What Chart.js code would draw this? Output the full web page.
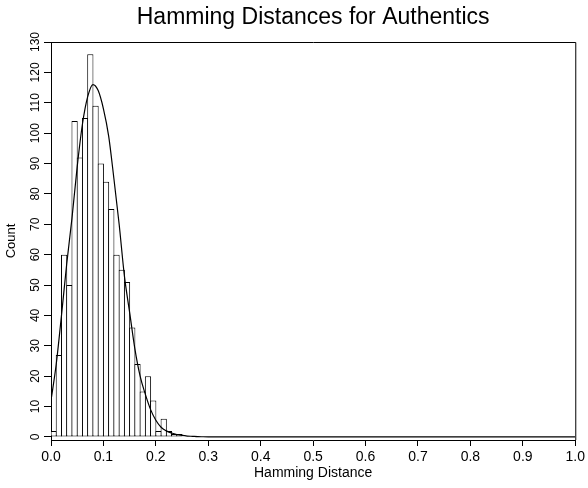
<!DOCTYPE html>
<html>
<head>
<meta charset="utf-8">
<script src="https://cdn.jsdelivr.net/npm/chart.js@4"></script>
<style>
  html, body { margin: 0; padding: 0; background: #fff; }
</style>
</head>
<body>
<canvas id="chart" width="588" height="488"></canvas>
<script>
// histogram bins (0.01 wide) and counts
const binCenters = [0.005, 0.015, 0.025, 0.035, 0.045, 0.055, 0.065, 0.075, 0.085, 0.095,
  0.105, 0.115, 0.125, 0.135, 0.145, 0.155, 0.165, 0.175, 0.185, 0.195,
  0.205, 0.215, 0.225, 0.235, 0.245];
const binCounts = [2, 27, 60, 50, 104, 92, 105, 126, 109, 90,
  84, 75, 60, 55, 51, 36, 24, 15, 20, 12,
  2, 6, 2, 1, 1];

// fitted density curve
const curveX = [0, 0.01, 0.02, 0.03, 0.04, 0.05, 0.06, 0.07, 0.08, 0.09,
  0.10, 0.11, 0.12, 0.13, 0.14, 0.15, 0.16, 0.17, 0.18, 0.19,
  0.20, 0.21, 0.22, 0.23, 0.24, 0.25, 0.26, 0.27, 0.28, 0.29, 0.30,
  0.35, 0.4, 0.5, 0.6, 0.7, 0.8, 0.9, 1.0];
const curveY = [12, 24, 40, 57, 72, 89, 103, 112, 116, 114,
  108, 99, 85, 70, 53, 41, 29, 20, 14, 9,
  5.5, 3.2, 2.0, 1.3, 0.8, 0.5, 0.3, 0.2, 0.1, 0.07, 0.05,
  0, 0, 0, 0, 0, 0, 0, 0];

const xTicks = [0, 0.1, 0.2, 0.3, 0.4, 0.5, 0.6, 0.7, 0.8, 0.9, 1.0];
const yTicks = [0, 10, 20, 30, 40, 50, 60, 70, 80, 90, 100, 110, 120, 130];

const FONT = "'Liberation Sans', Arial, Helvetica, sans-serif";

// top and right sides of the box
const framePlugin = {
  id: 'frame',
  afterDraw(chart) {
    const { ctx, chartArea: a } = chart;
    ctx.save();
    ctx.strokeStyle = '#000';
    ctx.lineWidth = 1;
    ctx.beginPath();
    ctx.moveTo(a.left, a.top + 0.5);
    ctx.lineTo(a.right + 0.5, a.top + 0.5);
    ctx.lineTo(a.right + 0.5, a.bottom);
    ctx.stroke();
    ctx.restore();
  }
};

new Chart(document.getElementById('chart'), {
  type: 'bar',
  data: {
    datasets: [
      {
        type: 'line',
        data: curveX.map((x, i) => ({ x: x, y: curveY[i] })),
        borderColor: '#000',
        borderWidth: 1.2,
        pointRadius: 0,
        cubicInterpolationMode: 'monotone',
        fill: false,
        order: 0
      },
      {
        type: 'bar',
        data: binCenters.map((x, i) => ({ x: x, y: binCounts[i] })),
        backgroundColor: '#fff',
        borderColor: '#000',
        borderWidth: 1,
        borderSkipped: false,
        barPercentage: 1.19,
        categoryPercentage: 1,
        order: 1
      }
    ]
  },
  options: {
    responsive: false,
    animation: false,
    devicePixelRatio: 1,
    layout: { autoPadding: false, padding: { left: 0, right: 8, top: 0, bottom: 0 } },
    plugins: {
      legend: { display: false },
      tooltip: { enabled: false },
      title: {
        display: true,
        text: 'Hamming Distances for Authentics',
        fullSize: false,
        color: '#000',
        font: { family: FONT, size: 23, weight: 'normal' },
        padding: { top: 4, bottom: 10.4 }
      }
    },
    scales: {
      x: {
        type: 'linear',
        min: 0,
        max: 1,
        offset: false,
        afterBuildTicks: (s) => { s.ticks = xTicks.map(v => ({ value: v })); },
        afterFit: (s) => { s.height = 48; },
        grid: { drawOnChartArea: false, drawTicks: true, tickLength: 6, tickColor: '#000', offset: false },
        border: { display: true, color: '#000', width: 1 },
        ticks: {
          color: '#000',
          font: { family: FONT, size: 14 },
          padding: 3,
          maxRotation: 0,
          autoSkip: false,
          callback: (v) => Number(v).toFixed(1)
        },
        title: {
          display: true,
          text: 'Hamming Distance',
          color: '#000',
          font: { family: FONT, size: 14 },
          padding: { top: 0, bottom: 6 }
        }
      },
      y: {
        type: 'linear',
        min: -1,
        max: 130,
        afterBuildTicks: (s) => { s.ticks = yTicks.map(v => ({ value: v })); },
        afterFit: (s) => { s.width = 51; },
        grid: { drawOnChartArea: false, drawTicks: true, tickLength: 7, tickColor: '#000' },
        border: { display: true, color: '#000', width: 1 },
        ticks: {
          color: '#000',
          font: { family: FONT, size: 12 },
          padding: -2,
          minRotation: 90,
          maxRotation: 90,
          crossAlign: 'center',
          autoSkip: false
        },
        title: {
          display: true,
          text: 'Count',
          color: '#000',
          font: { family: FONT, size: 13 },
          padding: { top: 4, bottom: 0 }
        }
      }
    }
  },
  plugins: [framePlugin]
});
</script>
</body>
</html>
